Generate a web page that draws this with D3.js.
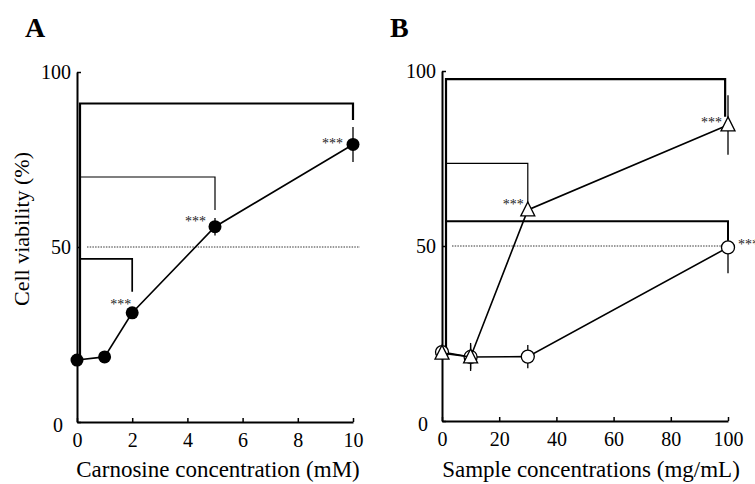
<!DOCTYPE html>
<html>
<head>
<meta charset="utf-8">
<script src="https://cdn.jsdelivr.net/npm/d3@7"></script>
<style>
  body { margin: 0; background: #fff; }
  svg { display: block; font-family: "Liberation Serif", "Times New Roman", serif; }
  .axis path, .axis line { stroke: #000; }
  .axis text { font-size: 20px; fill: #000; }
</style>
</head>
<body>
<svg id="fig" width="755" height="484"></svg>
<script>
// ---- panel A: carnosine
var carnosineX = [0, 1, 2, 5, 10];
var carnosineY = [17.7, 18.6, 31.2, 55.8, 79.3];
var carnosineErr = [0, 1, 1.5, 2.5, 5];
var ticksA = [0, 2, 4, 6, 8, 10];
// significance brackets: [target x, bracket level, leg end]
var bracketsA = [[10, 91, 86.3], [5, 70, 60.6], [2, 46.6, 37.2]];

// ---- panel B: samples
var sampleX = [0, 10, 30, 100];
var triangleY = [19.4, 18.3, 60.3, 84.6];
var triangleErr = [0, 4, 1, 8.5];
var circleY = [19.7, 18.3, 18.4, 49.6];
var circleErr = [0, 3.5, 3.3, 7.4];
var ticksB = [0, 20, 40, 60, 80, 100];
var bracketsB = [[99, 97.7, 86.9], [30, 73.6, 62], [100, 57.1, 51.6]];

var ticksY = [0, 50, 100];

var svg = d3.select("#fig");

function panel(opt) {
  var x = d3.scaleLinear().domain(opt.xDomain).range(opt.xRange);
  var y = d3.scaleLinear().domain([0, 100]).range(opt.yRange);
  var g = svg.append("g");

  // reference line at 50%
  g.append("line")
    .attr("x1", x(0) + 10).attr("x2", opt.refEnd)
    .attr("y1", y(50)).attr("y2", y(50))
    .attr("stroke", "#000").attr("stroke-width", 0.8)
    .attr("stroke-dasharray", "1.5,1.2");

  // brackets
  opt.brackets.forEach(function(b, i) {
    var w = opt.bracketW[i];
    g.append("path")
      .attr("d", "M" + (x(0) + opt.legOff) + "," + y(opt.control) +
                 "V" + y(b[1]) + "H" + x(b[0]) + "V" + y(b[2]))
      .attr("fill", "none").attr("stroke", "#000").attr("stroke-width", w);
  });

  // axes
  var xAxis = d3.axisBottom(x).tickValues(opt.xTicks).tickSizeInner(-4).tickSizeOuter(0).tickPadding(11);
  var gx = g.append("g").attr("class", "axis").attr("transform", "translate(0," + y(0) + ")").call(xAxis);
  gx.select(".domain").attr("stroke-width", 2);
  gx.selectAll(".tick line").attr("stroke-width", 1.5);

  var yAxis = d3.axisLeft(y).tickValues(ticksY).tickSizeInner(-4).tickSizeOuter(0).tickPadding(6);
  var gy = g.append("g").attr("class", "axis").attr("transform", "translate(" + x(0) + ",0)").call(yAxis);
  gy.select(".domain").attr("stroke-width", 2);
  gy.selectAll(".tick line").attr("stroke-width", 1.5);
  // the zero label sits a little lower and further out
  gy.selectAll(".tick").filter(function(d) { return d === 0; }).select("text")
    .attr("x", -14).attr("dy", "0.45em");
  gx.selectAll("text").attr("font-family", "Liberation Serif");
  gy.selectAll("text").attr("font-family", "Liberation Serif");

  return { g: g, x: x, y: y };
}

function series(p, xs, ys, errs, marker) {
  var line = d3.line().x(function(d, i) { return p.x(xs[i]); }).y(function(d) { return p.y(d); });
  p.g.append("path").datum(ys).attr("d", line)
    .attr("fill", "none").attr("stroke", "#000").attr("stroke-width", 1.6);
  var pts = ys.map(function(d, i) { return { x: xs[i], y: d, e: errs[i] }; });
  p.g.selectAll(null).data(pts.filter(function(d) { return d.e > 0; })).enter()
    .append("line")
    .attr("x1", function(d) { return p.x(d.x); })
    .attr("x2", function(d) { return p.x(d.x); })
    .attr("y1", function(d) { return p.y(d.y + d.e); })
    .attr("y2", function(d) { return p.y(d.y - d.e); })
    .attr("stroke", "#000").attr("stroke-width", 1.3);
  var m = p.g.selectAll(null).data(pts).enter().append("g")
    .attr("transform", function(d) { return "translate(" + p.x(d.x) + "," + p.y(d.y) + ")"; });
  if (marker === "filled") {
    m.append("circle").attr("r", 6.5).attr("fill", "#000");
  } else if (marker === "open") {
    m.append("circle").attr("r", 6.5).attr("fill", "#fff").attr("stroke", "#000").attr("stroke-width", 1.3);
  } else {
    m.append("path").attr("d", "M0,-8L7,6L-7,6Z").attr("fill", "#fff")
      .attr("stroke", "#000").attr("stroke-width", 1.3);
  }
}

function stars(p, xv, yv, dx, dy, anchor) {
  p.g.append("text").attr("x", p.x(xv) + dx).attr("y", p.y(yv) + dy)
    .attr("text-anchor", anchor).attr("font-size", 14).attr("fill", "#222")
    .text("***");
}

// ---------- panel A
var pA = panel({
  xDomain: [0, 10], xRange: [77, 353], yRange: [422, 72],
  xTicks: ticksA, brackets: bracketsA, bracketW: [2.2, 1.2, 1.7],
  legOff: 3, control: carnosineY[0], refEnd: 360
});
series(pA, carnosineX, carnosineY, carnosineErr, "filled");
stars(pA, 10, carnosineY[4], -10, 4, "end");
stars(pA, 5, carnosineY[3], -9, -1, "end");
stars(pA, 2, carnosineY[2], -1, -4, "end");

// ---------- panel B
var pB = panel({
  xDomain: [0, 100], xRange: [442, 728], yRange: [421, 71],
  xTicks: ticksB, brackets: bracketsB, bracketW: [2.2, 1.2, 2],
  legOff: 4, control: circleY[0], refEnd: 725
});
series(pB, sampleX, circleY, circleErr, "open");
series(pB, sampleX, triangleY, triangleErr, "triangle");
stars(pB, 100, triangleY[3], -6, 2, "end");
stars(pB, 30, triangleY[2], -4, -1, "end");
stars(pB, 100, circleY[3], 10, 2, "start");

// ---------- titles
svg.append("text").attr("x", 218).attr("y", 477).attr("text-anchor", "middle")
  .attr("font-size", 23).text("Carnosine concentration (mM)");
svg.append("text").attr("x", 591).attr("y", 477).attr("text-anchor", "middle")
  .attr("font-size", 23).text("Sample concentrations (mg/mL)");
svg.append("text").attr("transform", "translate(29,229) rotate(-90)").attr("text-anchor", "middle")
  .attr("font-size", 22).text("Cell viability (%)");
svg.append("text").attr("x", 25).attr("y", 37).attr("font-size", 28).attr("font-weight", "bold").text("A");
svg.append("text").attr("x", 390).attr("y", 37).attr("font-size", 28).attr("font-weight", "bold").text("B");
</script>
</body>
</html>
